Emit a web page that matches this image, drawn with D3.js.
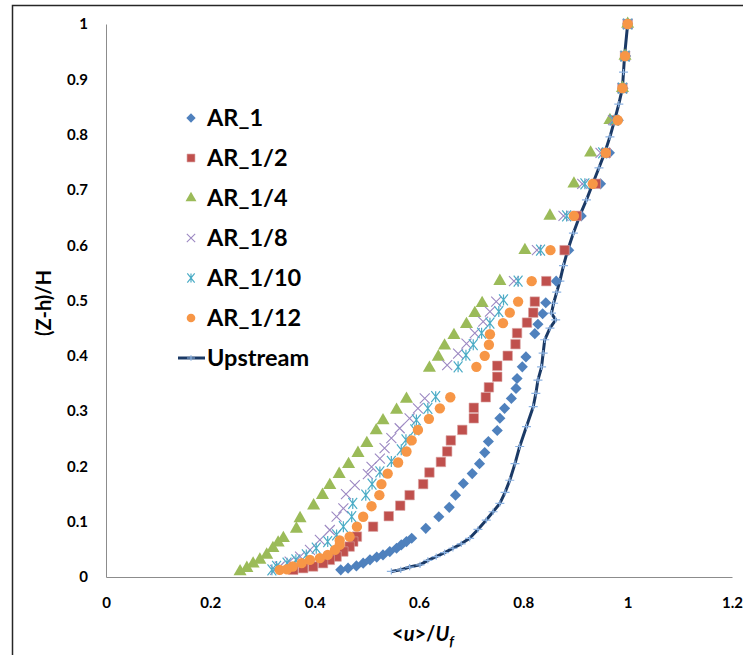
<!DOCTYPE html>
<html>
<head>
<meta charset="utf-8">
<script src="https://cdn.jsdelivr.net/npm/d3@7"></script>
<style>
  html, body { margin: 0; padding: 0; background: #fff; }
  svg { display: block; font-family: Lato, "Liberation Sans", sans-serif; }
</style>
</head>
<body>
<svg id="chart" width="743" height="655"></svg>
<script>
// values: [<u>/Uf, (Z-h)/H]
const ar1 = [
  [1.0,1.0],[0.996,0.942],[0.991,0.884],[0.982,0.826],[0.965,0.767],[0.948,0.711],[0.911,0.653],[0.887,0.591],[0.863,0.535],
  [0.843,0.496],[0.837,0.476],[0.828,0.457],[0.822,0.44],[0.805,0.398],[0.798,0.38],[0.788,0.359],[0.786,0.341],[0.777,0.323],
  [0.764,0.305],[0.755,0.287],[0.75,0.265],[0.733,0.245],[0.726,0.225],[0.716,0.205],[0.702,0.187],[0.685,0.169],[0.67,0.148],
  [0.658,0.126],[0.638,0.109],[0.613,0.088],[0.586,0.07],[0.576,0.064],[0.566,0.058],[0.557,0.052],[0.544,0.046],[0.531,0.04],
  [0.519,0.036],[0.506,0.031],[0.493,0.025],[0.48,0.02],[0.464,0.016],[0.45,0.013]
];
const ar1_2 = [
  [1.0,1.0],[0.995,0.942],[0.99,0.884],[0.975,0.826],[0.958,0.767],[0.939,0.711],[0.902,0.653],[0.879,0.591],[0.844,0.535],
  [0.822,0.498],[0.819,0.478],[0.807,0.46],[0.788,0.441],[0.785,0.421],[0.77,0.4],[0.75,0.382],[0.75,0.362],[0.734,0.343],
  [0.728,0.325],[0.705,0.306],[0.705,0.287],[0.683,0.266],[0.661,0.247],[0.654,0.227],[0.642,0.208],[0.62,0.189],[0.608,0.168],
  [0.582,0.148],[0.564,0.129],[0.542,0.11],[0.512,0.091],[0.481,0.073],[0.474,0.064],[0.467,0.055],[0.455,0.046],[0.442,0.037],
  [0.429,0.031],[0.416,0.025],[0.397,0.019],[0.378,0.016],[0.359,0.013]
];
const ar1_4 = [
  [1.0,1.0],[0.995,0.942],[0.99,0.884],[0.966,0.826],[0.929,0.767],[0.897,0.711],[0.851,0.653],[0.803,0.591],[0.755,0.535],
  [0.721,0.495],[0.707,0.477],[0.691,0.457],[0.667,0.437],[0.649,0.418],[0.637,0.398],[0.62,0.378],[0.576,0.322],[0.557,0.302],
  [0.531,0.283],[0.518,0.265],[0.5,0.242],[0.483,0.224],[0.465,0.204],[0.447,0.186],[0.429,0.166],[0.415,0.148],[0.398,0.129],
  [0.372,0.106],[0.365,0.087],[0.34,0.07],[0.33,0.062],[0.32,0.052],[0.308,0.04],[0.295,0.031],[0.282,0.024],[0.27,0.016],[0.257,0.01]
];
const ar1_8 = [
  [1.0,1.0],[0.995,0.942],[0.99,0.884],[0.972,0.826],[0.948,0.767],[0.913,0.711],[0.877,0.653],[0.826,0.591],[0.782,0.535],
  [0.748,0.498],[0.736,0.48],[0.723,0.462],[0.707,0.441],[0.691,0.422],[0.675,0.404],[0.654,0.383],[0.611,0.323],[0.598,0.305],
  [0.582,0.287],[0.563,0.269],[0.547,0.251],[0.534,0.233],[0.525,0.214],[0.509,0.199],[0.502,0.186],[0.477,0.166],[0.46,0.15],
  [0.455,0.124],[0.442,0.109],[0.429,0.085],[0.41,0.067],[0.391,0.049],[0.372,0.037],[0.352,0.028],[0.333,0.019],[0.324,0.013]
];
const ar1_10 = [
  [1.0,1.0],[0.995,0.942],[0.99,0.884],[0.974,0.826],[0.952,0.767],[0.918,0.711],[0.883,0.653],[0.833,0.591],[0.79,0.535],
  [0.762,0.501],[0.753,0.48],[0.736,0.459],[0.72,0.441],[0.704,0.42],[0.69,0.401],[0.675,0.38],[0.632,0.326],[0.617,0.305],
  [0.595,0.284],[0.592,0.266],[0.575,0.248],[0.566,0.23],[0.547,0.209],[0.525,0.19],[0.51,0.168],[0.498,0.148],[0.473,0.133],
  [0.471,0.109],[0.455,0.091],[0.442,0.076],[0.425,0.064],[0.403,0.052],[0.384,0.04],[0.364,0.031],[0.347,0.025],[0.327,0.019],[0.318,0.013]
];
const ar1_12 = [
  [1.0,1.0],[0.995,0.942],[0.99,0.884],[0.981,0.826],[0.958,0.767],[0.933,0.711],[0.897,0.653],[0.852,0.591],[0.816,0.535],
  [0.79,0.498],[0.774,0.478],[0.761,0.459],[0.736,0.439],[0.734,0.42],[0.726,0.4],[0.71,0.38],[0.66,0.325],[0.64,0.305],
  [0.619,0.286],[0.598,0.266],[0.586,0.247],[0.576,0.227],[0.56,0.207],[0.54,0.187],[0.528,0.168],[0.524,0.148],[0.509,0.128],
  [0.493,0.109],[0.481,0.091],[0.467,0.073],[0.448,0.066],[0.448,0.058],[0.439,0.049],[0.425,0.04],[0.41,0.034],[0.391,0.031],
  [0.375,0.025],[0.358,0.019],[0.347,0.014],[0.333,0.013]
];
const upstream = [
  [1.0,1.0],[0.994,0.942],[0.992,0.913],[0.99,0.884],[0.983,0.855],[0.975,0.826],[0.966,0.796],[0.956,0.767],[0.945,0.74],
  [0.933,0.711],[0.921,0.682],[0.908,0.653],[0.896,0.622],[0.885,0.591],[0.877,0.563],[0.87,0.535],[0.864,0.515],[0.858,0.495],
  [0.854,0.477],[0.862,0.465],[0.851,0.45],[0.841,0.429],[0.838,0.405],[0.835,0.38],[0.828,0.356],[0.824,0.332],[0.819,0.308],
  [0.806,0.272],[0.793,0.236],[0.784,0.205],[0.774,0.175],[0.765,0.153],[0.755,0.133],[0.742,0.118],[0.729,0.103],[0.713,0.086],
  [0.697,0.07],[0.681,0.06],[0.665,0.052],[0.649,0.044],[0.633,0.037],[0.617,0.03],[0.602,0.022],[0.582,0.018],[0.565,0.013],[0.547,0.01]
];

const seriesNames = ['AR_1', 'AR_1/2', 'AR_1/4', 'AR_1/8', 'AR_1/10', 'AR_1/12', 'Upstream'];
const seriesData  = [ar1, ar1_2, ar1_4, ar1_8, ar1_10, ar1_12, upstream];

const xTicks = [0, 0.2, 0.4, 0.6, 0.8, 1, 1.2];
const xTickLabels = ['0', '0.2', '0.4', '0.6', '0.8', '1', '1.2'];
const yTicks = [0, 0.1, 0.2, 0.3, 0.4, 0.5, 0.6, 0.7, 0.8, 0.9, 1];
const yTickLabels = ['0', '0.1', '0.2', '0.3', '0.4', '0.5', '0.6', '0.7', '0.8', '0.9', '1'];

// marker look per series
const styles = [
  { type: 'diamond',  color: '#4F81BD' },
  { type: 'square',   color: '#C0504D' },
  { type: 'triangle', color: '#9BBB59' },
  { type: 'x',        color: '#9C88C2' },
  { type: 'asterisk', color: '#4BACC6' },
  { type: 'circle',   color: '#F79646' },
  { type: 'plus',     color: '#8DB3E2', line: '#1B3A66' }
];

const svg = d3.select('#chart');
const x = d3.scaleLinear().domain([0, 1.2]).range([106, 732]);
const y = d3.scaleLinear().domain([0, 1]).range([577, 24]);

// outer frame (cut off at right and bottom, like the source)
svg.append('path')
  .attr('d', 'M12.5,660V5.5H750')
  .attr('fill', 'none')
  .attr('stroke', '#262626')
  .attr('stroke-width', 1.5);

// axes
const yAxis = svg.append('g')
  .attr('transform', `translate(${x(0)},0)`)
  .call(d3.axisLeft(y).tickValues(yTicks).tickFormat((d, i) => yTickLabels[i]).tickSize(0).tickPadding(18));
const xAxis = svg.append('g')
  .attr('transform', `translate(0,${y(0)})`)
  .call(d3.axisBottom(x).tickValues(xTicks).tickFormat((d, i) => xTickLabels[i]).tickSize(0).tickPadding(20));

[xAxis, yAxis].forEach(g => {
  g.select('.domain').attr('stroke', '#8c8c8c').attr('stroke-width', 1);
  g.selectAll('text')
    .attr('font-family', 'Lato, sans-serif')
    .attr('font-weight', 'bold')
    .attr('font-size', 15)
    .attr('fill', '#000');
});

// axis titles
svg.append('text')
  .attr('transform', 'translate(51,303) rotate(-90)')
  .attr('text-anchor', 'middle')
  .attr('font-weight', 'bold')
  .attr('font-size', 20)
  .text('(Z-h)/H');

const xt = svg.append('text')
  .attr('x', 423).attr('y', 641)
  .attr('text-anchor', 'middle')
  .attr('font-weight', 'bold')
  .attr('font-size', 20);
xt.append('tspan').text('<');
xt.append('tspan').attr('font-style', 'italic').text('u');
xt.append('tspan').text('>/');
xt.append('tspan').attr('font-style', 'italic').text('U');
xt.append('tspan').attr('font-style', 'italic').attr('font-size', 14).attr('dy', 5).text('f');

// marker drawing
function drawMarker(g, type, color, scale = 1) {
  const s = scale;
  if (type === 'diamond') {
    g.append('path').attr('d', d3.symbol(d3.symbolSquare, 62 * s)()).attr('transform', 'rotate(45)')
      .attr('fill', color);
  } else if (type === 'square') {
    g.append('path').attr('d', d3.symbol(d3.symbolSquare, 90 * s)())
      .attr('fill', color).attr('stroke', '#d9a3a2').attr('stroke-width', 0.6);
  } else if (type === 'triangle') {
    g.append('path').attr('d', d3.symbol(d3.symbolTriangle, 74 * s)())
      .attr('fill', color);
  } else if (type === 'circle') {
    g.append('path').attr('d', d3.symbol(d3.symbolCircle, 84 * s)())
      .attr('fill', color);
  } else if (type === 'x') {
    const r = 5 * Math.sqrt(s);
    g.append('path').attr('d', `M${-r},${-r}L${r},${r}M${-r},${r}L${r},${-r}`)
      .attr('stroke', color).attr('stroke-width', 1.1).attr('fill', 'none');
  } else if (type === 'asterisk') {
    const r = 5.5 * Math.sqrt(s);
    g.append('path').attr('d', `M${-r * 0.8},${-r}L${r * 0.8},${r}M${-r * 0.8},${r}L${r * 0.8},${-r}M0,${-r}V${r}`)
      .attr('stroke', color).attr('stroke-width', 1.2).attr('fill', 'none');
  } else if (type === 'plus') {
    const r = 4.5 * Math.sqrt(s);
    g.append('path').attr('d', `M${-r},0H${r}M0,${-r * 0.7}V${r * 0.7}`)
      .attr('stroke', color).attr('stroke-width', 1.2).attr('fill', 'none');
  }
}

// upstream line goes first, markers on top
const up = styles[6];
svg.append('path')
  .datum(upstream)
  .attr('fill', 'none')
  .attr('stroke', up.line)
  .attr('stroke-width', 3)
  .attr('stroke-linejoin', 'round')
  .attr('d', d3.line().x(d => x(d[0])).y(d => y(d[1])));

const order = [6, 0, 1, 2, 3, 4, 5];
order.forEach(si => {
  const st = styles[si];
  const g = svg.append('g').attr('class', 'series-' + si);
  seriesData[si].forEach(d => {
    const m = g.append('g').attr('transform', `translate(${x(d[0])},${y(d[1])})`);
    drawMarker(m, st.type, st.color);
  });
});

// legend
const legend = svg.append('g');
seriesNames.forEach((name, i) => {
  const cy = 118 + i * 40;
  const st = styles[i];
  const item = legend.append('g').attr('transform', `translate(0,${cy})`);
  if (st.type === 'plus') {
    item.append('line').attr('x1', 178).attr('x2', 205).attr('y1', 0).attr('y2', 0)
      .attr('stroke', st.line).attr('stroke-width', 3);
    const m = item.append('g').attr('transform', 'translate(191,0)');
    drawMarker(m, 'plus', st.color, 0.8);
  } else {
    const m = item.append('g').attr('transform', 'translate(191,0)');
    drawMarker(m, st.type, st.color, 0.7);
  }
  item.append('text')
    .attr('x', 207).attr('y', 8)
    .attr('font-weight', 'bold')
    .attr('font-size', 23.5)
    .text(name);
});
</script>
</body>
</html>
